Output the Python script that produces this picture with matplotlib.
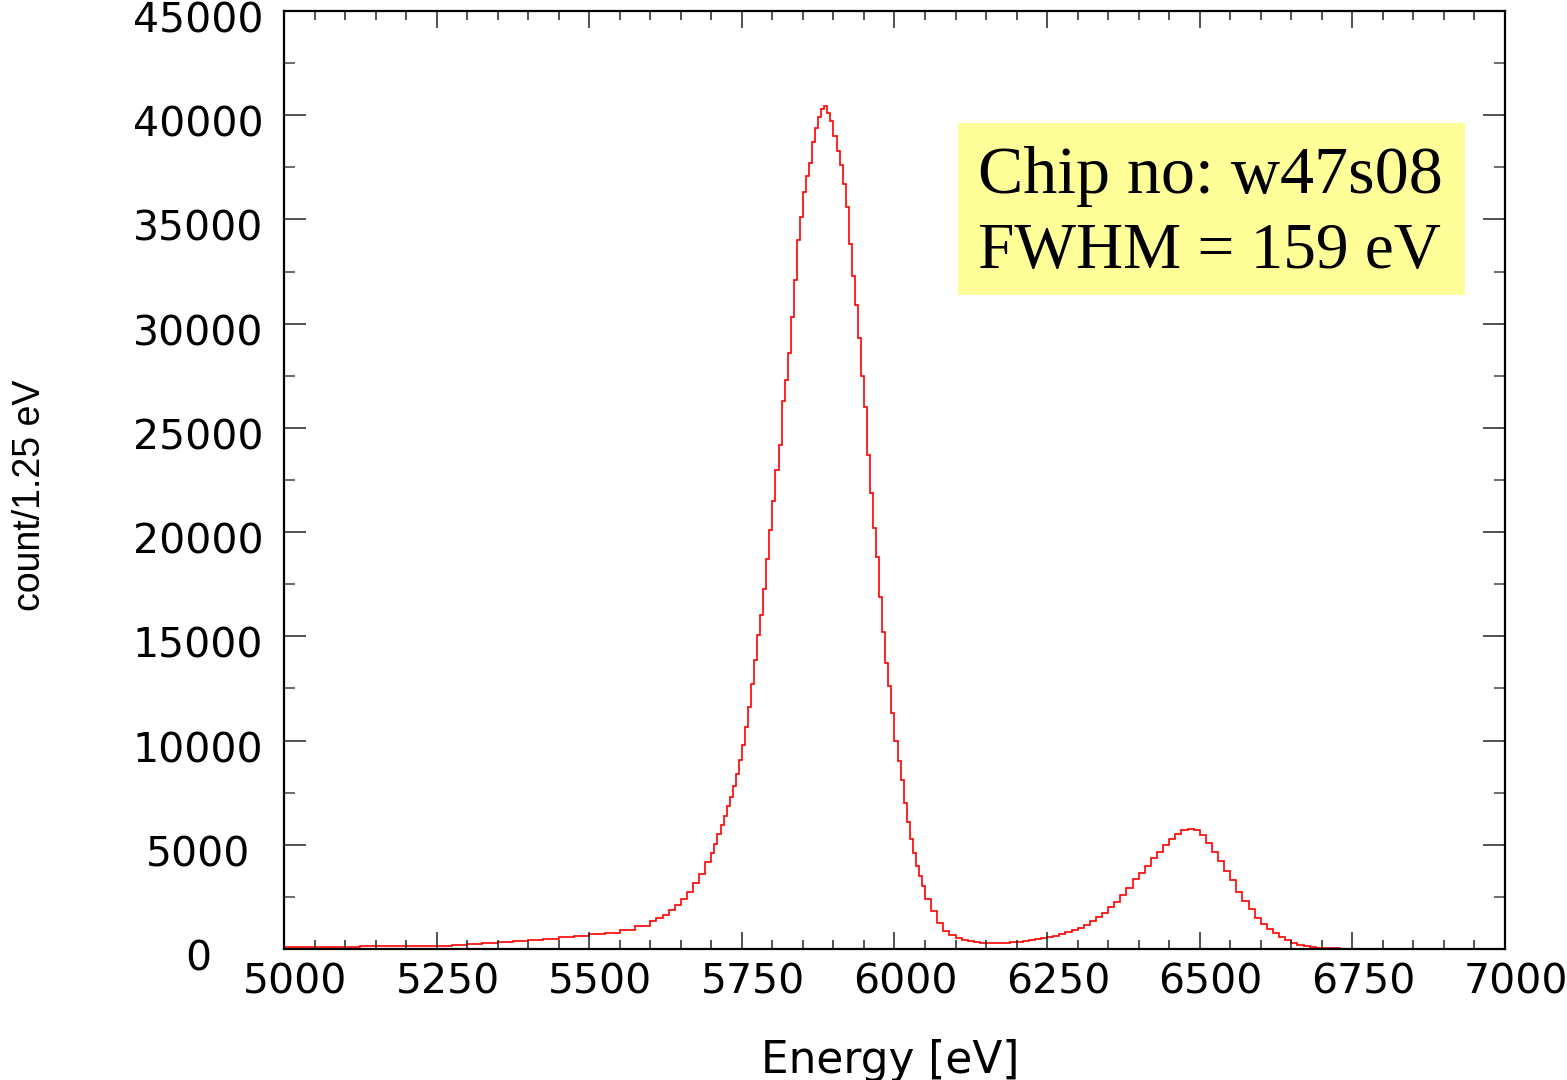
import numpy as np
import matplotlib
matplotlib.use("Agg")
import matplotlib.pyplot as plt
from matplotlib.transforms import blended_transform_factory, offset_copy
from matplotlib.patches import Rectangle

# spectrum, counts per 1.25 eV, in blocks of different bin width
# 5000-5600 eV, 25 eV bins
counts_low = [110, 105, 115, 110, 115, 120, 125, 130, 135, 145, 160, 190,
              225, 270, 320, 390, 450, 500, 560, 620, 700, 790, 920, 1100]
# 5600-5700 eV, 10 eV bins
counts_rise = [1350, 1500, 1650, 1850, 2100, 2400, 2750, 3150, 3600, 4150]
# 5700-6050 eV, 5 eV bins (K-alpha peak)
counts_kalpha = [4600, 5050, 5500, 5950, 6400, 6850, 7300, 7800, 8400, 9050,
                 9800, 10650, 11600, 12700, 13850, 15050, 16000, 17250, 18700, 20100,
                 21500, 23000, 24200, 26300, 27300, 28600, 30300, 32100, 34000, 35100,
                 36300, 37100, 37700, 38700, 39400, 39900, 40300, 40450, 40100, 39700,
                 39000, 38300, 37600, 36700, 35600, 33800, 32300, 30900, 29300, 27500,
                 26000, 23700, 21900, 20200, 18800, 16900, 15200, 13700, 12600, 11300,
                 10000, 9000, 8100, 7000, 6100, 5300, 4600, 4000, 3500, 3000]
# 6050-6150 eV, 10 eV bins
counts_valley = [2400, 1800, 1250, 850, 650, 520, 430, 370, 320, 300]
# 6150-6750 eV, 10 eV bins (K-beta peak)
counts_kbeta = [290, 285, 290, 300, 320, 345, 380, 420, 460, 510,
                570, 640, 720, 800, 890, 1000, 1150, 1350, 1550, 1750,
                2000, 2250, 2600, 2950, 3350, 3650, 4000, 4350, 4650, 5000,
                5300, 5500, 5700, 5750, 5700, 5450, 5100, 4650, 4200, 3750,
                3300, 2750, 2300, 1900, 1500, 1200, 950, 750, 580, 430,
                300, 200, 140, 100, 70, 50, 35, 25, 15, 10]
# 6750-6775 eV
counts_tail = [5]

edges = np.concatenate([np.arange(5000, 5600, 25), np.arange(5600, 5700, 10),
                        np.arange(5700, 6050, 5), np.arange(6050, 6150, 10),
                        np.arange(6150, 6750, 10), [6750, 6775]])
counts = np.array(counts_low + counts_rise + counts_kalpha + counts_valley
                  + counts_kbeta + counts_tail)

x_ticks = np.arange(5000, 7001, 250)
y_ticks = np.arange(0, 45001, 5000)
info_lines = ["Chip no: w47s08", "FWHM = 159 eV"]

fig = plt.figure(figsize=(15.67, 10.8), dpi=100)
ax = fig.add_axes([0.18124, 0.12130, 0.77919, 0.86852])

ax.stairs(counts, edges, color="red", lw=1.2)

ax.set_xlim(5000, 7000)
ax.set_ylim(0, 45000)
ax.set_xticks(x_ticks)
ax.set_xticks(np.arange(5000, 7001, 50), minor=True)
ax.set_yticks(y_ticks)
ax.set_yticks(np.arange(0, 45001, 2500), minor=True)
ax.set_xticklabels([])
ax.set_yticklabels([])
ax.tick_params(axis="x", which="major", direction="in", length=12, width=1.1,
               color="#222222", top=True, bottom=True)
ax.tick_params(axis="x", which="minor", direction="in", length=6.5, width=1.1,
               color="#222222", top=True, bottom=True)
ax.tick_params(axis="y", which="major", direction="in", length=16, width=1.1,
               color="#222222", left=True, right=True)
ax.tick_params(axis="y", which="minor", direction="in", length=8, width=1.1,
               color="#444444", left=True, right=True)
for s in ax.spines.values():
    s.set_linewidth(1.6)

# tick labels placed by hand to copy the offsets of the original
tx = offset_copy(blended_transform_factory(ax.transData, ax.transAxes), fig,
                 x=11, y=-29, units="dots")
for v in x_ticks:
    ax.text(v, 0, str(v), transform=tx, ha="center", va="center_baseline",
            fontsize=29.5, family="DejaVu Sans", clip_on=False)
ty = offset_copy(blended_transform_factory(ax.transAxes, ax.transData), fig,
                 x=0, y=-6, units="dots")
for v in y_ticks:
    ax.text(-86 / 1221, v, str(v), transform=ty, ha="center", va="center_baseline",
            fontsize=29.5, family="DejaVu Sans", clip_on=False)

fig.text(890 / 1567, 1 - 1060 / 1080, "Energy [eV]", ha="center", va="center",
         fontsize=31.5, family="DejaVu Sans")
fig.text(30 / 1567, 1 - 495 / 1080, "count/1.25 eV", ha="center", va="center",
         rotation=90, fontsize=27, family="Liberation Sans")

ax.add_patch(Rectangle((0.552, 0.697), 0.415, 0.184, transform=ax.transAxes,
                       facecolor="#ffff99", edgecolor="none", zorder=3))
ax.text(0.5684, 0.806, info_lines[0], transform=ax.transAxes, ha="left",
        va="baseline", fontsize=49, family="Liberation Serif", zorder=4)
ax.text(0.5684, 0.726, info_lines[1], transform=ax.transAxes, ha="left",
        va="baseline", fontsize=47, family="Liberation Serif", zorder=4)

fig.savefig("out.png", dpi=100)
